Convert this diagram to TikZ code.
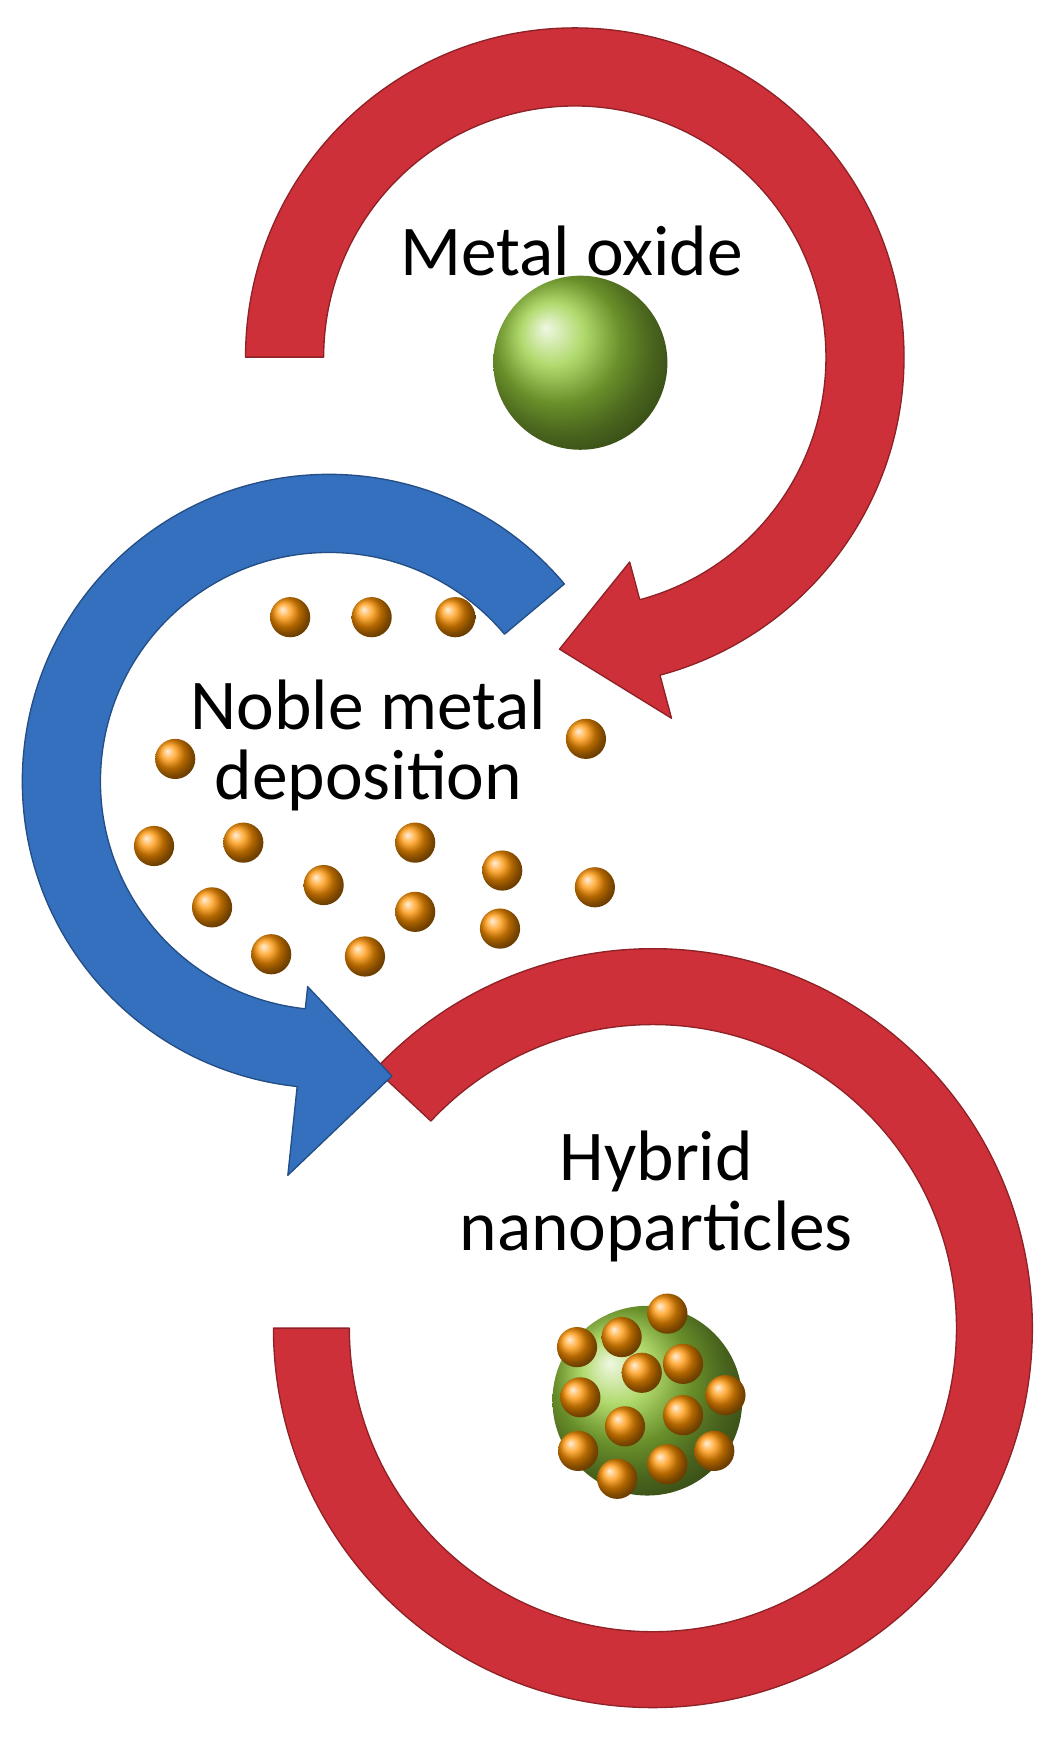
\documentclass[tikz,border=0pt]{standalone}
\usepackage{fontspec}
\setmainfont{Carlito}
\begin{document}
\begin{tikzpicture}[x=1pt,y=1pt,
  lbl/.style={font=\fontsize{64}{70}\selectfont, text=black, align=center},
  dot/.style={circle, minimum size=36pt, inner sep=0pt, ball color=orange!85!yellow},
  band/.style={draw=#1!70!black, line width=1.2pt, fill=#1, line join=round}]
\definecolor{rd}{RGB}{205,48,56}
\definecolor{bl}{RGB}{52,112,190}
\definecolor{gr}{RGB}{150,205,60}
\useasboundingbox (0,0) rectangle (952,-1568);
% bottom red band
\coordinate (c3) at (585,-1190);
\fill[band=rd] ([shift={(137:340)}]c3) arc[start angle=137,end angle=-180,radius=340]
  -- ([shift={(180:272)}]c3) arc[start angle=-180,end angle=137,radius=272] -- cycle;
% blue arrow
\coordinate (c2) at (295,-700);
\fill[band=bl] ([shift={(40:275)}]c2) arc[start angle=40,end angle=264,radius=275]
  -- ([shift={(264:355)}]c2) -- ([shift={(282:270)}]c2) -- ([shift={(264:185)}]c2)
  -- ([shift={(264:205)}]c2) arc[start angle=264,end angle=40,radius=205] -- cycle;
% top red arrow
\coordinate (c1) at (515,-320);
\fill[band=rd] ([shift={(180:295)}]c1) arc[start angle=180,end angle=-75,radius=295]
  -- ([shift={(-75:335)}]c1) -- ([shift={(-93:262)}]c1) -- ([shift={(-75:190)}]c1)
  -- ([shift={(-75:225)}]c1) arc[start angle=-75,end angle=180,radius=225] -- cycle;
% metal oxide
\node[lbl] (t1) at (512,-225) {Metal oxide};
\node[circle, minimum size=156pt, inner sep=0pt, ball color=gr] (mo) at (520,-325) {};
% noble metal
\node[lbl] (t2) at (330,-668) {Noble metal\\[-8pt]deposition};
\foreach \p [count=\i] in {(260,-553),(333,-553),(408,-553),(525,-662),(157,-680),(138,-758),(218,-755),(372,-755),(450,-780),(533,-795),(290,-793),(190,-813),(372,-817),(448,-832),(243,-855),(327,-857)}
  \node[dot] (n\i) at \p {};
% hybrid
\node[lbl] (t3) at (588,-1072) {Hybrid\\[-8pt]nanoparticles};
\node[circle, minimum size=170pt, inner sep=0pt, ball color=gr] (core) at (580,-1255) {};
\foreach \p [count=\i] in {(598,-1177),(517,-1207),(557,-1198),(612,-1222),(575,-1230),(520,-1252),(650,-1250),(560,-1278),(612,-1268),(518,-1300),(640,-1300),(553,-1325),(598,-1312)}
  \node[dot] (h\i) at \p {};
\end{tikzpicture}
\end{document}
